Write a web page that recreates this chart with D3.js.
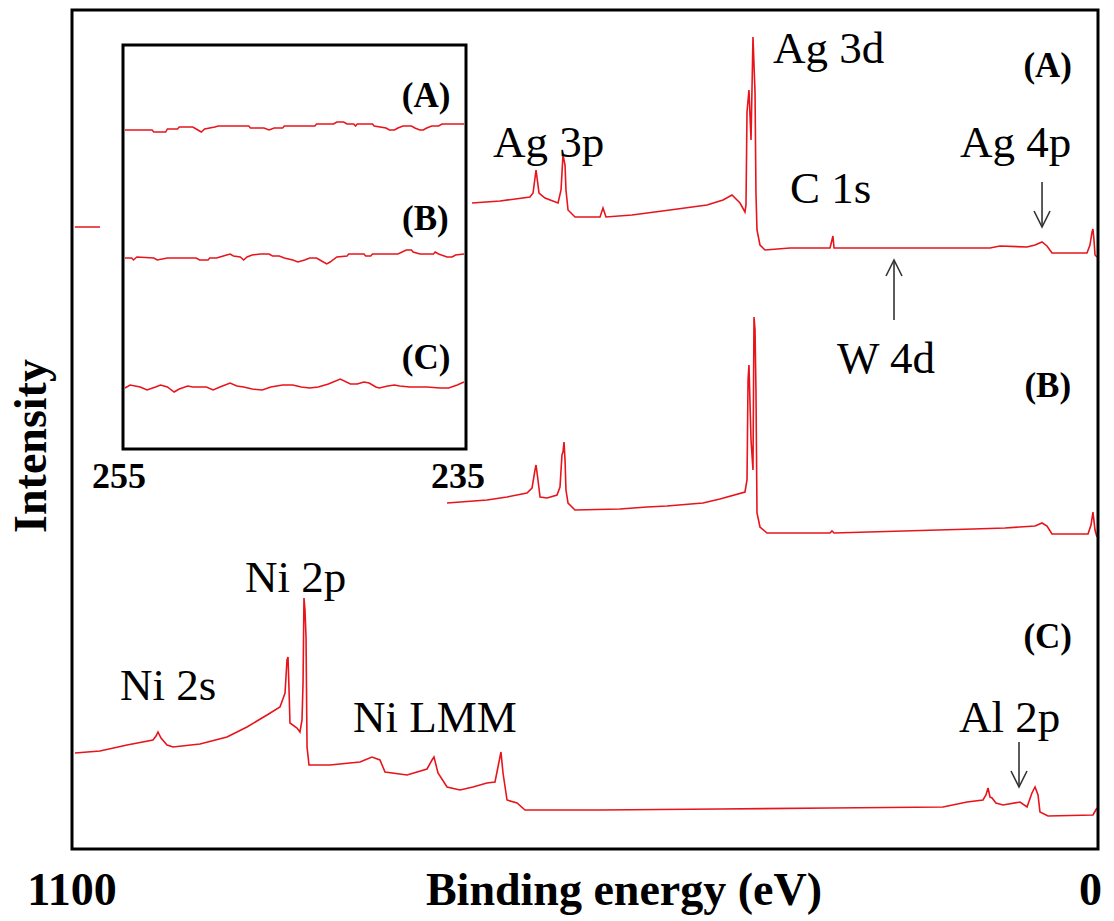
<!DOCTYPE html>
<html>
<head>
<meta charset="utf-8">
<script src="https://cdn.jsdelivr.net/npm/d3@7/dist/d3.min.js"></script>
<style>
  html, body { margin: 0; padding: 0; background: #fff; }
  svg { display: block; }
  text { font-family: "Liberation Serif", "Times New Roman", serif; fill: #000; }
</style>
</head>
<body>
<svg id="chart" width="1114" height="921"></svg>
<script>
// XPS survey spectra: [binding energy (eV), intensity (a.u.)]; null marks a break in the trace
const spectrumA = [
  [1097, 622], [1070, 622], null,
  [671.1, 646], [641.1, 648], [609.0, 652], [605.7, 656], [602.5, 679], [599.3, 656], [592.9, 651],
  [578.9, 646], [575.7, 659], [573.6, 694], [571.4, 684], [570.4, 659], [568.2, 639], [560.7, 632],
  [533.9, 632], [530.7, 641], [527.5, 632], [499.6, 634], [458.9, 639], [419.2, 644], [402.0, 649],
  [392.4, 654], [383.8, 646], [378.5, 637], [377.4, 644], [376.3, 737], [374.2, 759], [372.0, 709],
  [369.9, 812], [367.7, 756], [366.7, 656], [365.6, 619], [362.4, 604], [357.0, 599], [330.2, 601],
  [287.3, 601], [285.2, 609], [284.2, 613], [283.0, 601], [190.8, 601], [115.8, 601], [105.1, 603],
  [76.1, 602], [67.5, 604], [60.0, 607], [54.7, 603], [49.3, 596], [11.8, 596], [8.6, 604],
  [6.4, 617], [5.4, 620], [4.3, 609], [3.2, 594], [1.1, 592]
];

const spectrumB = [
  [697.9, 346], [655.1, 349], [633.6, 352], [612.2, 356], [606.8, 361], [603.6, 379], [602.5, 384],
  [600.4, 369], [598.2, 352], [590.7, 351], [580.0, 354], [576.8, 362], [574.7, 394], [573.6, 397],
  [572.5, 407], [571.4, 389], [570.4, 359], [568.2, 346], [560.7, 339], [512.5, 340], [483.5, 342],
  [462.1, 343], [423.5, 346], [405.3, 350], [378.5, 357], [376.3, 369], [375.2, 469], [374.2, 484],
  [372.0, 409], [369.9, 379], [368.8, 532], [367.7, 519], [366.7, 459], [365.6, 336], [362.4, 322],
  [354.9, 316], [319.5, 316], [287.3, 316], [285.2, 318], [283.0, 316], [134.0, 320], [99.7, 321],
  [67.5, 323], [60.0, 326], [54.7, 323], [49.3, 315], [10.7, 315], [7.5, 324], [5.4, 337],
  [3.2, 319], [1.1, 312]
];

const spectrumC = [
  [1096.8, 96], [1070.0, 98], [1041.0, 104], [1013.2, 109], [1009.9, 113], [1007.8, 117], [1004.6, 111],
  [998.1, 104], [991.7, 102], [962.8, 105], [933.8, 112], [912.4, 122], [890.9, 134], [877.0, 142],
  [871.6, 156], [869.5, 189], [868.4, 192], [867.3, 159], [866.3, 126], [858.8, 121], [855.6, 117],
  [853.4, 129], [852.3, 166], [851.3, 251], [850.2, 239], [849.1, 212], [848.0, 102], [845.9, 84],
  [823.4, 84], [791.2, 87], [778.4, 92], [769.8, 89], [764.4, 77], [740.8, 74], [719.4, 80],
  [714.0, 89], [711.9, 92], [707.6, 76], [697.9, 62], [684.0, 59], [670.1, 62], [655.1, 66],
  [646.5, 67], [643.3, 82], [640.1, 97], [637.9, 76], [633.6, 49], [622.9, 46], [614.3, 39],
  [533.9, 39], [405.3, 40], [287.3, 41], [166.2, 42], [140.4, 47], [123.3, 49], [120.1, 54],
  [117.9, 61], [115.8, 52], [113.6, 51], [109.4, 46], [101.9, 44], [83.6, 47], [76.1, 42],
  [70.8, 56], [67.5, 62], [64.3, 54], [62.2, 37], [53.6, 33], [5.4, 34], [1.1, 41]
];

// Narrow window 255–235 eV (W 4f / Ag region check)
const insetA = [
  [255.0, 319], [253.4, 319], [253.3, 317], [252.6, 317], [252.5, 320], [251.9, 320], [251.8, 322],
  [251.0, 322], [250.7, 319], [250.5, 317], [250.3, 320], [249.7, 322], [249.5, 323], [247.7, 323],
  [247.6, 321], [246.8, 321], [246.5, 319], [246.2, 321], [245.7, 321], [245.6, 323], [243.8, 323],
  [243.7, 325], [242.7, 325], [242.5, 327], [242.1, 327], [241.9, 325], [241.5, 325], [241.4, 323],
  [241.3, 325], [240.4, 325], [240.3, 323], [239.6, 321], [239.4, 319], [239.1, 319], [238.9, 321],
  [238.6, 323], [238.1, 323], [237.9, 321], [237.6, 319], [237.4, 319], [237.2, 321], [236.9, 323],
  [236.5, 323], [236.3, 325], [235.0, 325]
];

const insetB = [
  [255.0, 191], [254.6, 191], [254.5, 189], [254.3, 192], [253.3, 191], [253.1, 189], [252.5, 191],
  [250.8, 191], [250.6, 189], [250.1, 189], [250.0, 191], [249.6, 191], [249.4, 192], [249.0, 194],
  [248.8, 195], [248.6, 193], [248.2, 192], [248.0, 189], [247.8, 192], [247.5, 194], [247.0, 195],
  [246.5, 195], [246.3, 193], [245.9, 193], [245.6, 191], [245.1, 189], [244.8, 187], [244.4, 189],
  [244.1, 191], [243.7, 191], [243.4, 188], [243.1, 185], [242.9, 187], [242.5, 192], [241.9, 193],
  [241.8, 195], [240.9, 195], [240.8, 193], [240.5, 193], [240.4, 195], [238.9, 195], [238.4, 199],
  [238.1, 199], [238.0, 197], [237.6, 195], [236.8, 195], [236.7, 197], [236.5, 195], [236.0, 192],
  [235.7, 192], [235.5, 194], [235.0, 195]
];

const insetC = [
  [255.0, 61], [254.7, 64], [254.1, 62], [253.7, 59], [253.2, 62], [252.9, 64], [252.5, 62],
  [252.1, 57], [251.8, 60], [251.3, 63], [251.0, 62], [250.2, 62], [249.8, 59], [249.4, 62],
  [248.8, 66], [248.4, 63], [248.0, 62], [247.5, 60], [246.9, 59], [246.4, 62], [245.7, 64],
  [245.1, 64], [244.6, 62], [244.1, 61], [243.6, 62], [243.0, 65], [242.3, 70], [241.7, 65],
  [241.3, 65], [240.9, 67], [240.6, 66], [240.2, 62], [240.0, 61], [239.5, 63], [239.1, 64],
  [238.8, 63], [238.2, 62], [237.2, 62], [236.4, 61], [235.9, 61], [235.4, 64], [235.0, 67]
];

const seriesNames = ["(A)", "(B)", "(C)"];
const mainTicks = [1100, 0];
const insetTicks = [255, 235];

// Peak assignments: text with anchor in (eV, intensity)
const peakLabels = [
  { text: "Ag 3p", eV: 648.6, y: 692 },
  { text: "Ag 3d", eV: 348.4, y: 786 },
  { text: "C 1s", eV: 330.2, y: 646 },
  { text: "Ag 4p", eV: 148.0, y: 692 },
  { text: "W 4d", eV: 279.8, y: 476 },
  { text: "Ni 2p", eV: 914.5, y: 257 },
  { text: "Ni 2s", eV: 1048.5, y: 149 },
  { text: "Ni LMM", eV: 798.7, y: 117 },
  { text: "Al 2p", eV: 149.0, y: 117 }
];
// Pointer arrows: energy, tail and tip intensity
const arrows = [
  { eV: 60.0, from: 667, to: 622 },
  { eV: 218.7, from: 529, to: 589 },
  { eV: 84.7, from: 107, to: 62 }
];
const seriesLabelPos = [
  { eV: 27.9, y: 772 }, { eV: 28.9, y: 452 }, { eV: 27.9, y: 201 }
];
const insetLabelPos = [
  { eV: 235.8, y: 342 }, { eV: 235.9, y: 219 }, { eV: 235.8, y: 80 }
];

const svg = d3.select("#chart");
const red = "#e8141b";

// Main panel scales
const frame = { left: 72, right: 1098, top: 10, bottom: 849 };
const x = d3.scaleLinear().domain([1100, 0]).range([frame.left, frame.right]);
const y = d3.scaleLinear().domain([0, 840]).range([849, 9]);

// Inset scales
const inset = { left: 123, right: 466, top: 45, bottom: 449 };
const xi = d3.scaleLinear().domain([255, 235]).range([125, 464]);
const yi = d3.scaleLinear().domain([0, 400]).range([449, 49]);

const line = d3.line()
  .defined(d => d !== null)
  .x(d => x(d[0])).y(d => y(d[1]));
const lineInset = d3.line().x(d => xi(d[0])).y(d => yi(d[1]));

// Spectra
[spectrumA, spectrumB, spectrumC].forEach(s => {
  svg.append("path").datum(s)
    .attr("d", line)
    .attr("fill", "none").attr("stroke", red)
    .attr("stroke-width", 1.6).attr("stroke-linejoin", "miter");
});

// Outer frame
svg.append("rect")
  .attr("x", frame.left).attr("y", frame.top)
  .attr("width", frame.right - frame.left).attr("height", frame.bottom - frame.top)
  .attr("fill", "none").attr("stroke", "#000").attr("stroke-width", 3);

// Inset panel
svg.append("rect")
  .attr("x", inset.left).attr("y", inset.top)
  .attr("width", inset.right - inset.left).attr("height", inset.bottom - inset.top)
  .attr("fill", "#fff").attr("stroke", "#000").attr("stroke-width", 3);

[insetA, insetB, insetC].forEach(s => {
  svg.append("path").datum(s)
    .attr("d", lineInset)
    .attr("fill", "none").attr("stroke", red).attr("stroke-width", 1.5);
});

svg.selectAll(".inset-label").data(seriesNames).enter().append("text")
  .attr("class", "inset-label")
  .attr("x", (d, i) => xi(insetLabelPos[i].eV))
  .attr("y", (d, i) => yi(insetLabelPos[i].y))
  .attr("text-anchor", "end")
  .attr("font-weight", "bold").attr("font-size", 35)
  .text(d => d);

svg.selectAll(".inset-tick").data(insetTicks).enter().append("text")
  .attr("class", "inset-tick")
  .attr("x", d => xi(d) - 6).attr("y", 488)
  .attr("text-anchor", "middle")
  .attr("font-weight", "bold").attr("font-size", 36)
  .text(d => d);

// Series labels in main panel
svg.selectAll(".series-label").data(seriesNames).enter().append("text")
  .attr("class", "series-label")
  .attr("x", (d, i) => x(seriesLabelPos[i].eV))
  .attr("y", (d, i) => y(seriesLabelPos[i].y))
  .attr("text-anchor", "end")
  .attr("font-weight", "bold").attr("font-size", 35)
  .text(d => d);

// Peak labels
svg.selectAll(".peak-label").data(peakLabels).enter().append("text")
  .attr("class", "peak-label")
  .attr("x", d => x(d.eV)).attr("y", d => y(d.y))
  .attr("font-size", 45)
  .text(d => d.text);

// Arrows (open V heads)
arrows.forEach(a => {
  const ax = x(a.eV), y0 = y(a.from), y1 = y(a.to);
  const dir = y1 > y0 ? 1 : -1;
  const g = svg.append("g").attr("stroke", "#333").attr("stroke-width", 1.6).attr("fill", "none");
  g.append("line").attr("x1", ax).attr("x2", ax).attr("y1", y0).attr("y2", y1);
  g.append("path").attr("d", `M${ax - 8},${y1 - dir * 16}L${ax},${y1}L${ax + 8},${y1 - dir * 16}`);
});

// Axis text
svg.selectAll(".main-tick").data(mainTicks).enter().append("text")
  .attr("class", "main-tick")
  .attr("x", d => d === 0 ? x(d) + 4 : x(d))
  .attr("y", 905)
  .attr("text-anchor", d => d === 0 ? "end" : "middle")
  .attr("font-weight", "bold").attr("font-size", 46)
  .text(d => d);

svg.append("text")
  .attr("x", 624).attr("y", 905)
  .attr("text-anchor", "middle")
  .attr("font-weight", "bold").attr("font-size", 46)
  .text("Binding energy (eV)");

svg.append("text")
  .attr("transform", "translate(46,446) rotate(-90)")
  .attr("text-anchor", "middle")
  .attr("font-weight", "bold").attr("font-size", 46)
  .text("Intensity");
</script>
</body>
</html>
